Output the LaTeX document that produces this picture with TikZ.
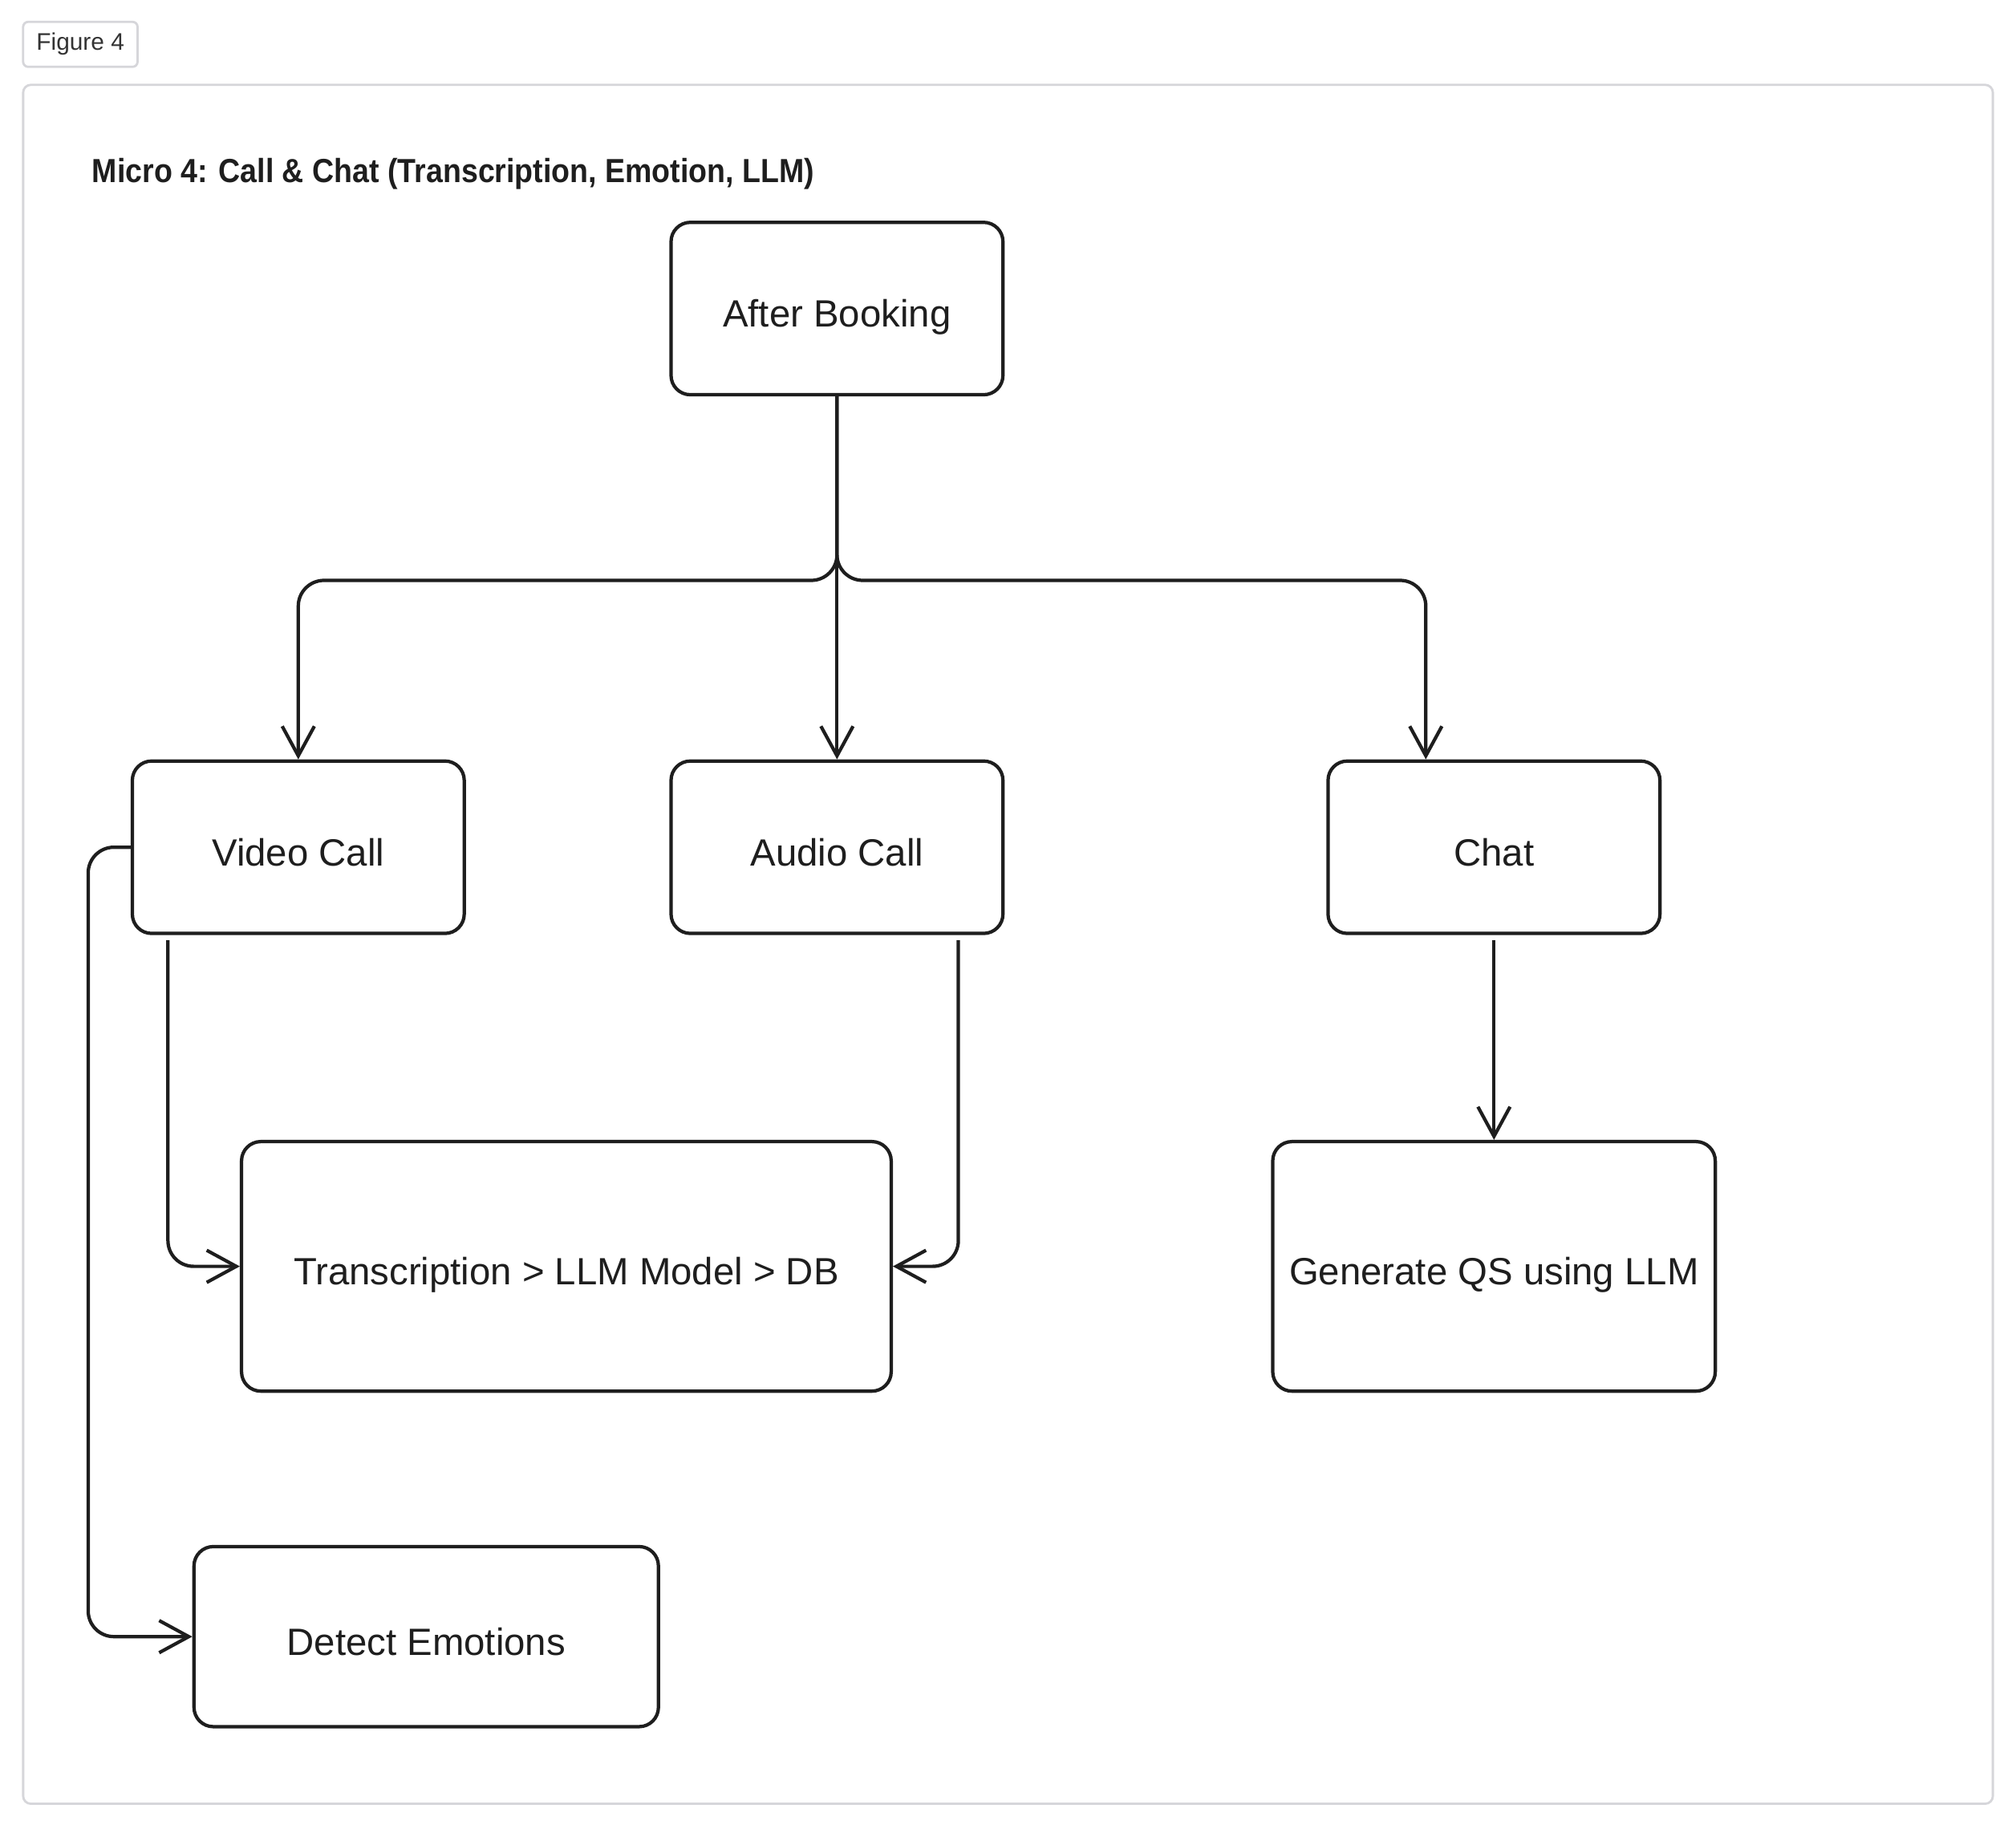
\documentclass[tikz,border=0pt]{standalone}
\usepackage{fontspec}
\setmainfont{Liberation Sans}
\newfontfamily\titlefont[FakeStretch=0.9]{Liberation Sans}
\usetikzlibrary{arrows.meta}
\definecolor{ink}{HTML}{1E1E1E}
\definecolor{framegray}{HTML}{D6D6DA}
\definecolor{labelgray}{HTML}{333333}
\begin{document}
\begin{tikzpicture}[x=0.01cm,y=-0.01cm,
  box/.style={draw=ink, line width=0.75pt, rounded corners=0.15cm,
    minimum width=2.58cm, minimum height=1.34cm,
    font=\fontsize{8.4}{10}\selectfont, text=ink, inner sep=0pt,
    text height=9pt, text depth=0.8pt},
  conn/.style={draw=ink, line width=0.75pt, rounded corners=0.2cm,
    -{Straight Barb[length=0.23cm,width=0.25cm]}},
  framebox/.style={draw=framegray, line width=0.5pt},
]
\useasboundingbox (0,0) rectangle (1568,1422.6);
\fill[white] (0,0) rectangle (1568,1422.6);

% outer frame and figure tag
\draw[framebox, rounded corners=0.06cm] (18,66) rectangle (1550,1403);
\node[framebox, rounded corners=0.04cm, minimum width=0.89cm, minimum height=0.35cm,
  inner sep=0pt, text=labelgray, font=\fontsize{5.3}{6}\selectfont] (fig) at (62.5,34.5) {Figure 4};

% title
\node[anchor=base west, inner sep=0pt, text=ink,
  font=\titlefont\fontsize{7.4}{9}\selectfont\bfseries] (title) at (71,142)
  {Micro 4: Call \& Chat (Transcription, Emotion, LLM)};

% nodes
\node[box] (ab) at (651,240) {After Booking};
\node[box] (vc) at (232,659) {Video Call};
\node[box] (ac) at (651,659) {Audio Call};
\node[box] (ch) at (1162,659) {Chat};
\node[box, minimum width=5.05cm, minimum height=1.94cm] (tr) at (440.5,985) {Transcription > LLM Model > DB};
\node[box, minimum width=3.44cm, minimum height=1.94cm] (gq) at (1162,985) {Generate QS using LLM};
\node[box, minimum width=3.61cm, minimum height=1.40cm] (de) at (331.5,1273) {Detect Emotions};

% connectors
\draw[conn] (ab.south) -- (ac.north);
\draw[conn] (ab.south) -- ([yshift=-1.43cm]ab.south) -| (vc.north);
\draw[conn] (ab.south) -- ([yshift=-1.43cm]ab.south) -| ([xshift=-0.53cm]ch.north);
\draw[conn] ([xshift=0.29cm,yshift=-0.04cm]vc.south west) |- (tr.west);
\draw[conn] ([xshift=-0.36cm,yshift=-0.04cm]ac.south east) |- (tr.east);
\draw[conn] ([yshift=-0.04cm]ch.south) -- (gq.north);
\draw[conn] (vc.west) -- ([xshift=-0.33cm]vc.west) |- (de.west);
\end{tikzpicture}
\end{document}
